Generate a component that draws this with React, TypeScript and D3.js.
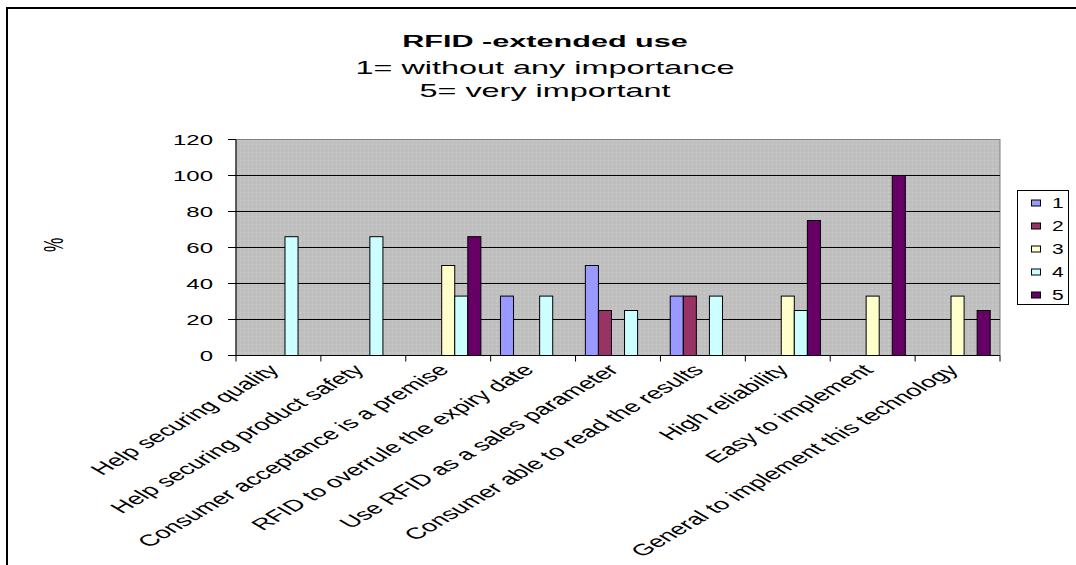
import React from "react";
import * as d3 from "d3";

const categories = [
  "Help securing quality",
  "Help securing product safety",
  "Consumer acceptance is a premise",
  "RFID to overrule the expiry date",
  "Use RFID as a sales parameter",
  "Consumer able to read the results",
  "High reliability",
  "Easy to implement",
  "General to implement this technology",
];
const seriesNames = ["1", "2", "3", "4", "5"];
const series1 = [0, 0, 0, 33, 50, 33, 0, 0, 0];
const series2 = [0, 0, 0, 0, 25, 33, 0, 0, 0];
const series3 = [0, 0, 50, 0, 0, 0, 33, 33, 33];
const series4 = [66, 66, 33, 33, 25, 33, 25, 0, 0];
const series5 = [0, 0, 66, 0, 0, 0, 75, 100, 25];
const seriesColors = ["#9999FF", "#993366", "#FFFFCC", "#CCFFFF", "#660066"];
const yTicks = [0, 20, 40, 60, 80, 100, 120];
const titleLines = ["RFID -extended use", "1= without any importance", "5= very important"];

const allSeries = [series1, series2, series3, series4, series5];
const FONT = "'Liberation Sans', Arial, sans-serif";

export default function App() {
  const W = 1076, H = 565;
  const left = 236, right = 1000, top = 139.5, bottom = 355.5;
  const x0 = d3.scaleBand<string>().domain(categories).range([left, right]).padding(0);
  const bw = x0.bandwidth();
  const gap = (bw * 1.5) / 6.5;
  const x1 = d3.scaleBand<string>().domain(seriesNames).range([gap / 2, bw - gap / 2]).padding(0);
  const y = d3.scaleLinear().domain([0, 120]).range([bottom, top]);

  return (
    <svg width={W} height={H} style={{ position: "absolute", left: 0, top: 0, background: "#fff" }} fontFamily={FONT}>
      <defs>
        <pattern id="tex" width="4" height="4" patternUnits="userSpaceOnUse">
          <rect width="4" height="4" fill="#C0C0C0" />
          <rect x="0" y="0" width="1" height="1" fill="#CCCCCC" />
          <rect x="2" y="2" width="1" height="1" fill="#B8B8B8" />
        </pattern>
      </defs>
      {/* outer chart frame (partly cut off) */}
      <rect x={7} y={8} width={1100} height={600} fill="none" stroke="#000" strokeWidth={2} />

      {/* titles */}
      {titleLines.map((t, i) => (
        <text
          key={i}
          transform={`translate(545,${[47, 74, 97][i]}) scale(1.8,1)`}
          textAnchor="middle"
          fontSize={i === 0 ? 17 : 18}
          fontWeight={i === 0 ? "bold" : "normal"}
          fill="#000"
        >
          {t}
        </text>
      ))}

      {/* plot area */}
      <rect x={left} y={top} width={right - left} height={bottom - top} fill="url(#tex)" stroke="#808080" strokeWidth={1} />
      {yTicks.filter((t) => t > 0 && t < 120).map((t) => (
        <line key={t} x1={left} x2={right} y1={y(t)} y2={y(t)} stroke="#000" strokeWidth={1} />
      ))}

      {/* bars */}
      {categories.map((c, ci) => (
        <g key={c}>
          {allSeries.map((s, si) =>
            s[ci] > 0 ? (
              <rect
                key={si}
                x={(x0(c) as number) + (x1(seriesNames[si]) as number)}
                y={y(s[ci])}
                width={x1.bandwidth()}
                height={bottom - y(s[ci])}
                fill={seriesColors[si]}
                stroke="#000"
                strokeWidth={1}
              />
            ) : null
          )}
        </g>
      ))}

      {/* axes */}
      <line x1={left} x2={left} y1={top} y2={bottom} stroke="#000" strokeWidth={1} />
      <line x1={left - 8} x2={right} y1={bottom} y2={bottom} stroke="#000" strokeWidth={1} />
      {yTicks.map((t) => (
        <g key={t}>
          <line x1={left - 8} x2={left} y1={y(t)} y2={y(t)} stroke="#000" />
          <text transform={`translate(213,${y(t)}) scale(1.6,1)`} dy="0.36em" textAnchor="end" fontSize={15} fill="#000">
            {t}
          </text>
        </g>
      ))}
      {categories.map((c, i) => (
        <line key={"t" + i} x1={x0(c) as number} x2={x0(c) as number} y1={bottom} y2={bottom + 6} stroke="#000" />
      ))}
      <line x1={right} x2={right} y1={bottom} y2={bottom + 6} stroke="#000" />

      {/* category labels */}
      {categories.map((c) => {
        const cx = (x0(c) as number) + bw / 2;
        return (
          <text
            key={"l" + c}
            transform={`translate(${cx + 2},371) scale(1.7,1) rotate(-45)`}
            textAnchor="end"
            fontSize={16}
            fill="#000"
          >
            {c}
          </text>
        );
      })}

      {/* y axis title */}
      <text transform="translate(63,245) scale(1.7,1) rotate(-90)" textAnchor="middle" fontSize={16} fill="#000">
        %
      </text>

      {/* legend */}
      <rect x={1017.5} y={190.5} width={51} height={114} fill="#fff" stroke="#000" strokeWidth={1} />
      {seriesNames.map((n, i) => (
        <g key={"lg" + n}>
          <rect x={1031.5} y={200 + i * 23} width={9} height={6} fill={seriesColors[i]} stroke="#000" strokeWidth={1} />
          <text transform={`translate(1052,${203 + i * 23}) scale(1.5,1)`} dy="0.36em" fontSize={14} fill="#000">
            {n}
          </text>
        </g>
      ))}
    </svg>
  );
}
